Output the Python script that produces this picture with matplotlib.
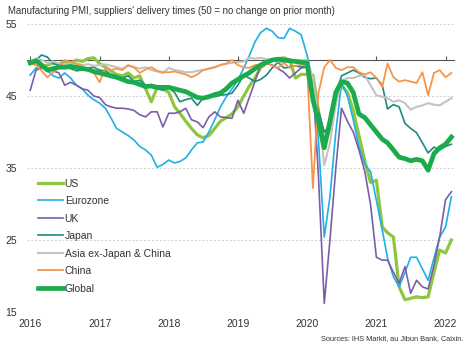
import numpy as np
import pandas as pd
import matplotlib
matplotlib.use("Agg")
import matplotlib.pyplot as plt

plt.rcParams['font.family'] = ['Liberation Sans', 'DejaVu Sans']

# Monthly index values, Jan 2016 - Feb 2022
months = pd.date_range("2016-01-01", periods=74, freq="MS")

us = [49.5, 49.8, 49.0, 49.3, 49.6, 49.4, 49.8, 49.5, 50.0, 49.8, 50.2, 50.3,
      49.5, 49.0, 48.5, 48.0, 47.8, 48.2, 47.5, 47.8, 46.0, 44.2, 46.2, 46.0,
      45.5, 43.5, 42.6, 41.5, 40.5, 39.6, 39.2, 39.5, 40.5, 41.5, 42.0, 42.5,
      43.5, 45.0, 46.3, 47.5, 48.9, 49.6, 50.0, 50.2, 50.3, 50.0, 47.5, 48.0,
      48.0, 47.9, 43.0, 38.5, 40.5, 44.5, 46.5, 45.5, 43.0, 39.5, 36.0, 33.0,
      33.3, 26.8, 26.0, 25.4, 18.5, 16.7, 16.9, 17.1, 17.0, 17.1, 20.5, 23.6,
      23.2, 25.0]

eurozone = [47.9, 48.9, 49.0, 48.5, 47.8, 47.5, 48.2, 47.5, 46.5, 46.0, 45.1, 44.5,
            44.0, 43.3, 42.0, 40.5, 40.0, 39.5, 38.9, 38.0, 37.5, 36.8, 35.1, 35.5,
            36.1, 35.7, 35.9, 36.4, 37.5, 38.5, 38.6, 40.0, 41.7, 43.5, 44.9, 46.0,
            47.2, 48.9, 50.5, 52.5, 53.8, 54.4, 54.0, 53.1, 53.0, 54.4, 54.0, 53.5,
            50.7, 47.0, 39.0, 25.4, 31.0, 40.0, 46.8, 45.0, 41.7, 38.0, 35.5, 34.5,
            30.5, 26.4, 22.5, 19.9, 18.5, 20.5, 22.6, 22.6, 21.0, 19.4, 22.5, 25.4,
            26.8, 31.0]

uk = [45.8, 48.6, 48.9, 48.7, 48.5, 48.2, 46.5, 46.9, 46.5, 46.0, 45.8, 45.0,
      44.8, 43.8, 43.5, 43.3, 43.3, 43.2, 43.0, 42.4, 42.1, 42.8, 42.8, 40.7,
      42.6, 42.6, 42.8, 43.3, 41.7, 41.4, 40.6, 42.1, 42.8, 42.1, 42.0, 41.9,
      44.4, 42.6, 44.7, 47.0, 49.3, 49.5, 49.3, 48.8, 48.3, 47.5, 48.2, 48.9,
      49.0, 47.0, 34.0, 16.2, 25.0, 35.0, 43.3, 41.5, 40.0, 37.5, 34.5, 30.0,
      22.6, 22.2, 22.2, 20.5, 19.0, 21.3, 17.6, 19.4, 18.5, 18.2, 21.5, 25.4,
      30.6, 31.7]

japan = [49.5, 50.0, 50.7, 50.4, 49.5, 49.3, 49.0, 48.8, 48.5, 48.6, 48.9, 49.0,
         48.6, 48.5, 48.0, 47.8, 47.5, 47.8, 47.0, 47.2, 46.5, 46.2, 46.0, 45.8,
         46.1, 45.5, 44.2, 44.5, 44.7, 43.7, 44.7, 45.0, 44.9, 45.1, 45.2, 45.4,
         46.5, 47.9, 47.5, 47.0, 47.3, 47.9, 48.9, 49.7, 48.9, 49.0, 49.2, 49.0,
         49.3, 47.0, 43.0, 40.0, 41.0, 45.0, 47.8, 48.2, 48.6, 48.2, 47.6, 47.4,
         47.5, 46.5, 43.2, 43.8, 43.5, 41.2, 40.5, 39.9, 38.5, 37.1, 37.9, 37.5,
         38.0, 38.3]

asia = [49.8, 50.2, 50.0, 49.6, 49.8, 49.5, 49.4, 49.6, 49.5, 49.3, 49.4, 49.2,
        49.3, 49.4, 49.2, 49.0, 48.8, 49.2, 49.0, 48.8, 49.0, 48.6, 48.4, 48.2,
        48.9, 48.6, 48.5, 48.3, 48.3, 48.5, 48.6, 48.8, 49.0, 49.3, 49.5, 49.6,
        49.7, 49.8, 50.3, 50.2, 50.3, 50.1, 50.0, 49.8, 49.7, 49.9, 50.0, 49.9,
        50.0, 47.5, 42.0, 35.4, 38.5, 44.0, 47.0, 47.5, 47.5, 47.8, 47.9, 46.5,
        45.1, 44.9, 44.7, 44.2, 44.4, 44.0, 43.1, 43.5, 43.7, 44.0, 43.8, 43.7,
        44.2, 44.7]

china = [49.5, 49.3, 48.5, 47.6, 48.3, 49.0, 50.0, 49.7, 49.5, 49.2, 48.5, 48.3,
         46.9, 48.9, 48.6, 48.8, 48.6, 49.3, 49.0, 48.2, 48.7, 49.0, 48.5, 48.3,
         48.3, 48.4, 48.2, 48.0, 47.6, 48.0, 48.6, 48.8, 49.0, 49.3, 49.5, 50.0,
         49.3, 49.0, 48.9, 49.3, 49.3, 49.7, 49.2, 48.9, 49.6, 48.9, 49.2, 49.3,
         49.2, 32.2, 45.4, 49.0, 50.0, 48.9, 48.6, 49.0, 49.0, 48.3, 48.0, 48.3,
         47.5, 46.3, 49.5, 47.6, 47.0, 47.2, 47.0, 46.8, 48.3, 45.1, 48.2, 48.6,
         47.6, 48.2]

global_ = [49.6, 49.9, 49.3, 48.6, 48.8, 49.0, 49.0, 49.1, 49.0, 48.8, 48.7, 48.4,
           48.2, 48.0, 47.8, 47.6, 47.3, 47.0, 46.9, 46.6, 46.3, 46.4, 46.2, 46.2,
           46.2, 46.0, 45.8, 45.6, 45.2, 44.8, 44.7, 44.9, 45.2, 45.4, 46.0, 46.8,
           47.3, 47.8, 48.2, 48.8, 49.3, 49.7, 50.0, 50.1, 50.0, 49.9, 49.8, 49.7,
           49.6, 44.5, 41.5, 37.8, 41.5, 45.5, 47.0, 46.8, 45.5, 42.5, 42.0, 41.0,
           40.0, 39.0, 38.5, 37.5, 36.5, 36.3, 36.0, 36.2, 36.0, 34.7, 37.0, 37.8,
           38.3, 39.3]

series = [
    ("US", us, "#8dc63f", 2.3),
    ("Eurozone", eurozone, "#1fb0e6", 1.2),
    ("UK", uk, "#7b5ea7", 1.2),
    ("Japan", japan, "#1b8a82", 1.2),
    ("Asia ex-Japan & China", asia, "#c3c3c3", 1.5),
    ("China", china, "#f5964a", 1.3),
    ("Global", global_, "#1aab4b", 3.4),
]

fig = plt.figure(figsize=(4.69, 3.49), dpi=100)
ax = fig.add_axes([27 / 469, 1 - 312 / 349, 428 / 469, 288 / 349])

for name, vals, col, lw in series:
    ax.plot(months, vals, color=col, lw=lw, label=name, solid_joinstyle="round")

ax.set_ylim(15, 55)
ax.set_xlim(pd.Timestamp("2015-12-15"), pd.Timestamp("2022-02-20"))
ax.set_yticks([15, 25, 35, 45, 55])
for yv in [15, 25, 35, 45, 55]:
    ax.axhline(yv, color="#d0d0d0", lw=0.7, ls=(0, (2, 2)), zorder=0)
ax.axhline(50, color="#555555", lw=0.8, zorder=0.5)

years = pd.date_range("2016-01-01", "2022-01-01", freq="YS")
ax.set_xticks(years)
ax.set_xticklabels([str(y.year) for y in years])
ax.vlines(years, 50, 50.5, color="#555555", lw=0.8, zorder=0.5)

for s in ax.spines.values():
    s.set_visible(False)
ax.tick_params(axis="both", length=0, labelsize=7.5, colors="#333333")
ax.tick_params(axis="y", pad=7)
ax.tick_params(axis="x", pad=5)

leg = ax.legend(loc="upper left", bbox_to_anchor=(0.015, 0.478), frameon=False,
                fontsize=7.5, handlelength=2.4, handletextpad=0.2,
                labelspacing=0.72, borderaxespad=0)
for t in leg.get_texts():
    t.set_color("#333333")

fig.text(8 / 469, 1 - 11 / 349,
         "Manufacturing PMI, suppliers' delivery times (50 = no change on prior month)",
         fontsize=6.9, color="#333333", va="center", ha="left")
fig.text(463 / 469, 1 - 339 / 349, "Sources: IHS Markit, au Jibun Bank, Caixin.",
         fontsize=5.3, color="#333333", va="center", ha="right")

fig.savefig("out.png", dpi=100)
